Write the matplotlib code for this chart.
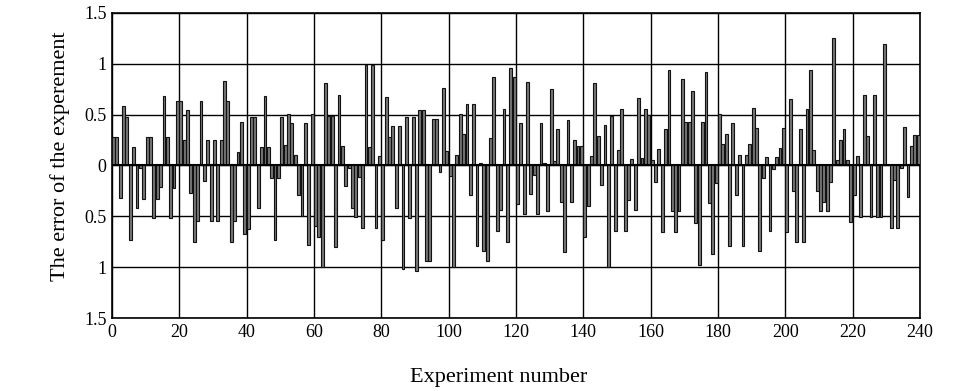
import numpy as np
import matplotlib.pyplot as plt

err_0_39 = [0.28, 0.28, -0.32, 0.59, 0.48, -0.73, 0.18, -0.42, -0.02, -0.33,
            0.28, 0.28, -0.52, -0.33, -0.21, 0.68, 0.28, -0.52, -0.22, 0.63,
            0.63, 0.25, 0.55, -0.27, -0.75, -0.55, 0.63, -0.15, 0.25, -0.55,
            0.25, -0.55, 0.25, 0.83, 0.63, -0.75, -0.55, 0.13, 0.43, -0.67]
err_40_79 = [-0.62, 0.48, 0.48, -0.42, 0.18, 0.68, 0.18, -0.12, -0.73, -0.12,
             0.48, 0.2, 0.51, 0.42, 0.1, -0.29, -0.5, 0.42, -0.78, 0.51,
             -0.6, -0.7, -1.0, 0.81, 0.49, 0.49, -0.8, 0.69, 0.19, -0.2,
             -0.02, -0.42, -0.51, -0.11, -0.61, 0.99, 0.18, 0.99, -0.61, 0.09]
err_80_119 = [-0.73, 0.67, 0.28, 0.39, -0.42, 0.39, -1.02, 0.48, -0.52, 0.48,
              -1.04, 0.55, 0.55, -0.94, -0.94, 0.46, 0.46, -0.06, 0.76, 0.14,
              -0.1, -1.0, 0.1, 0.51, 0.31, 0.6, -0.29, 0.6, -0.79, 0.02,
              -0.84, -0.94, 0.27, 0.87, -0.64, -0.44, 0.56, -0.75, 0.96, 0.87]
err_120_159 = [-0.38, 0.42, -0.48, 0.82, -0.28, -0.09, -0.48, 0.42, 0.02, -0.45,
               0.75, 0.04, 0.36, -0.36, -0.85, 0.45, -0.36, 0.25, 0.19, 0.19,
               -0.7, -0.4, 0.09, 0.81, 0.29, -0.19, 0.4, -1.0, 0.49, -0.64,
               0.15, 0.56, -0.64, -0.34, 0.06, -0.44, 0.66, 0.07, 0.56, 0.5]
err_160_199 = [0.05, -0.16, 0.16, -0.65, 0.36, 0.94, -0.45, -0.65, -0.45, 0.85,
               0.43, 0.43, 0.73, -0.57, -0.98, 0.43, 0.92, -0.37, -0.87, -0.17,
               0.51, 0.21, 0.31, -0.79, 0.42, -0.29, 0.1, -0.79, 0.1, 0.21,
               0.57, 0.37, -0.84, -0.12, 0.08, -0.64, -0.03, 0.08, 0.17, 0.37]
err_200_239 = [-0.65, 0.65, -0.25, -0.75, 0.36, -0.75, 0.56, 0.94, 0.15, -0.25,
               -0.45, -0.36, -0.45, -0.16, 1.25, 0.05, 0.25, 0.36, 0.05, -0.56,
               -0.29, 0.09, -0.51, 0.69, 0.29, -0.51, 0.69, -0.51, -0.51, 1.19,
               0.0, -0.61, -0.14, -0.61, -0.02, 0.38, -0.31, 0.19, 0.3, 0.3]

errors = err_0_39 + err_40_79 + err_80_119 + err_120_159 + err_160_199 + err_200_239
experiment = np.arange(len(errors))

x_ticks = np.arange(0, 241, 20)
y_ticks = [-1.5, -1, -0.5, 0, 0.5, 1, 1.5]
y_tick_labels = ['1.5', '1', '0.5', '0', '0.5', '1', '1.5']   # as printed (no minus)

plt.rcParams['font.family'] = ['Liberation Serif', 'DejaVu Serif']

fig = plt.figure(figsize=(9.75, 3.91), dpi=100)
ax = fig.add_axes([0.1149, 0.1867, 0.8287, 0.7801])

ax.bar(experiment, errors, width=0.85, align='edge', color='#767676',
       edgecolor='#111111', linewidth=0.8, zorder=3)

ax.set_xlim(0, 240)
ax.set_ylim(-1.5, 1.5)
ax.set_xticks(x_ticks)
ax.set_yticks(y_ticks)
ax.set_yticklabels(y_tick_labels)
ax.tick_params(axis='both', length=0, labelsize=13, pad=4)
ax.grid(True, color='black', linewidth=1.0, zorder=1)
ax.axhline(0, color='black', linewidth=1.5, zorder=4)
for s in ax.spines.values():
    s.set_linewidth(1.2)

ax.set_xlabel('Experiment number', fontsize=16)
ax.xaxis.set_label_coords(0.478, -0.165)
ax.set_ylabel('The error of the experement', fontsize=16)
ax.yaxis.set_label_coords(-0.052, 0.53)

fig.savefig('out.png', dpi=100)
